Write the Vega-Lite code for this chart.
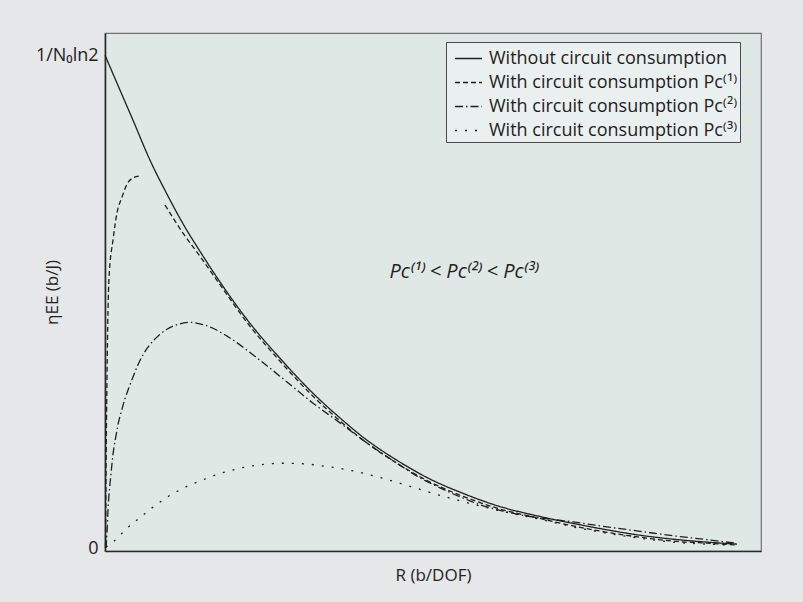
{
  "$schema": "https://vega.github.io/schema/vega-lite/v6.json",
  "width": 656,
  "height": 518,
  "autosize": {"type": "none"},
  "padding": {"left": 105, "top": 33, "right": 42, "bottom": 51},
  "background": "#e6e7e9",
  "config": {
    "view": {"fill": "#dfe8e5", "stroke": "#6f7270", "strokeWidth": 1.2},
    "font": "Open Sans"
  },
  "datasets": {
    "curves": [
      {"s": "none", "R": 0, "eta": 1.0}, {"s": "none", "R": 0.229, "eta": 0.929}, {"s": "none", "R": 0.427, "eta": 0.868}, {"s": "none", "R": 0.686, "eta": 0.787}, {"s": "none", "R": 0.945, "eta": 0.718}, {"s": "none", "R": 1.189, "eta": 0.658}, {"s": "none", "R": 1.448, "eta": 0.602}, {"s": "none", "R": 1.722, "eta": 0.546}, {"s": "none", "R": 2.21, "eta": 0.456}, {"s": "none", "R": 2.668, "eta": 0.385}, {"s": "none", "R": 3.171, "eta": 0.314}, {"s": "none", "R": 3.582, "eta": 0.264}, {"s": "none", "R": 3.933, "eta": 0.225}, {"s": "none", "R": 4.451, "eta": 0.178}, {"s": "none", "R": 4.954, "eta": 0.14}, {"s": "none", "R": 5.457, "eta": 0.111}, {"s": "none", "R": 5.976, "eta": 0.086}, {"s": "none", "R": 6.631, "eta": 0.064}, {"s": "none", "R": 7.134, "eta": 0.05}, {"s": "none", "R": 7.652, "eta": 0.037}, {"s": "none", "R": 8.155, "eta": 0.026}, {"s": "none", "R": 8.659, "eta": 0.018}, {"s": "none", "R": 9.177, "eta": 0.012}, {"s": "none", "R": 9.634, "eta": 0.008},

      {"s": "Pc1", "R": 0.008, "eta": 0}, {"s": "Pc1", "R": 0.015, "eta": 0.138}, {"s": "Pc1", "R": 0.03, "eta": 0.341}, {"s": "Pc1", "R": 0.046, "eta": 0.483}, {"s": "Pc1", "R": 0.061, "eta": 0.548}, {"s": "Pc1", "R": 0.122, "eta": 0.625}, {"s": "Pc1", "R": 0.183, "eta": 0.68}, {"s": "Pc1", "R": 0.259, "eta": 0.712}, {"s": "Pc1", "R": 0.335, "eta": 0.738}, {"s": "Pc1", "R": 0.427, "eta": 0.751}, {"s": "Pc1", "R": 0.534, "eta": 0.755}, {"s": "Pc1", "R": 0.7, "eta": null}, {"s": "Pc1", "R": 0.915, "eta": 0.696}, {"s": "Pc1", "R": 1.189, "eta": 0.639}, {"s": "Pc1", "R": 1.448, "eta": 0.592}, {"s": "Pc1", "R": 1.707, "eta": 0.543}, {"s": "Pc1", "R": 2.21, "eta": 0.45}, {"s": "Pc1", "R": 2.668, "eta": 0.379}, {"s": "Pc1", "R": 3.171, "eta": 0.308}, {"s": "Pc1", "R": 3.582, "eta": 0.258}, {"s": "Pc1", "R": 3.933, "eta": 0.219}, {"s": "Pc1", "R": 4.451, "eta": 0.172}, {"s": "Pc1", "R": 4.954, "eta": 0.134}, {"s": "Pc1", "R": 5.457, "eta": 0.105}, {"s": "Pc1", "R": 5.976, "eta": 0.081}, {"s": "Pc1", "R": 6.631, "eta": 0.06}, {"s": "Pc1", "R": 7.134, "eta": 0.045}, {"s": "Pc1", "R": 7.652, "eta": 0.032}, {"s": "Pc1", "R": 8.155, "eta": 0.022}, {"s": "Pc1", "R": 8.659, "eta": 0.014}, {"s": "Pc1", "R": 9.177, "eta": 0.01}, {"s": "Pc1", "R": 9.634, "eta": 0.006},

      {"s": "Pc2", "R": 0.015, "eta": 0}, {"s": "Pc2", "R": 0.03, "eta": 0.03}, {"s": "Pc2", "R": 0.046, "eta": 0.077}, {"s": "Pc2", "R": 0.091, "eta": 0.15}, {"s": "Pc2", "R": 0.122, "eta": 0.19}, {"s": "Pc2", "R": 0.168, "eta": 0.228}, {"s": "Pc2", "R": 0.198, "eta": 0.25}, {"s": "Pc2", "R": 0.259, "eta": 0.282}, {"s": "Pc2", "R": 0.305, "eta": 0.303}, {"s": "Pc2", "R": 0.366, "eta": 0.326}, {"s": "Pc2", "R": 0.427, "eta": 0.347}, {"s": "Pc2", "R": 0.503, "eta": 0.372}, {"s": "Pc2", "R": 0.579, "eta": 0.392}, {"s": "Pc2", "R": 0.686, "eta": 0.413}, {"s": "Pc2", "R": 0.808, "eta": 0.43}, {"s": "Pc2", "R": 0.945, "eta": 0.444}, {"s": "Pc2", "R": 1.143, "eta": 0.455}, {"s": "Pc2", "R": 1.296, "eta": 0.458}, {"s": "Pc2", "R": 1.448, "eta": 0.455}, {"s": "Pc2", "R": 1.646, "eta": 0.446}, {"s": "Pc2", "R": 1.86, "eta": 0.43}, {"s": "Pc2", "R": 2.363, "eta": 0.381}, {"s": "Pc2", "R": 2.774, "eta": 0.337}, {"s": "Pc2", "R": 3.171, "eta": 0.294}, {"s": "Pc2", "R": 3.582, "eta": 0.254}, {"s": "Pc2", "R": 3.933, "eta": 0.219}, {"s": "Pc2", "R": 4.451, "eta": 0.172}, {"s": "Pc2", "R": 4.756, "eta": 0.146}, {"s": "Pc2", "R": 5.107, "eta": 0.122}, {"s": "Pc2", "R": 5.412, "eta": 0.104}, {"s": "Pc2", "R": 5.716, "eta": 0.088}, {"s": "Pc2", "R": 6.067, "eta": 0.075}, {"s": "Pc2", "R": 6.479, "eta": 0.064}, {"s": "Pc2", "R": 7.134, "eta": 0.053}, {"s": "Pc2", "R": 7.652, "eta": 0.043}, {"s": "Pc2", "R": 8.155, "eta": 0.034}, {"s": "Pc2", "R": 8.659, "eta": 0.025}, {"s": "Pc2", "R": 9.177, "eta": 0.017}, {"s": "Pc2", "R": 9.604, "eta": 0.01},

      {"s": "Pc3", "R": 0.015, "eta": 0.002}, {"s": "Pc3", "R": 0.122, "eta": 0.012}, {"s": "Pc3", "R": 0.229, "eta": 0.026}, {"s": "Pc3", "R": 0.351, "eta": 0.042}, {"s": "Pc3", "R": 0.488, "eta": 0.057}, {"s": "Pc3", "R": 0.61, "eta": 0.07}, {"s": "Pc3", "R": 0.732, "eta": 0.083}, {"s": "Pc3", "R": 0.869, "eta": 0.096}, {"s": "Pc3", "R": 0.991, "eta": 0.107}, {"s": "Pc3", "R": 1.143, "eta": 0.118}, {"s": "Pc3", "R": 1.296, "eta": 0.128}, {"s": "Pc3", "R": 1.448, "eta": 0.136}, {"s": "Pc3", "R": 1.753, "eta": 0.151}, {"s": "Pc3", "R": 2.058, "eta": 0.162}, {"s": "Pc3", "R": 2.363, "eta": 0.169}, {"s": "Pc3", "R": 2.713, "eta": 0.172}, {"s": "Pc3", "R": 3.018, "eta": 0.171}, {"s": "Pc3", "R": 3.354, "eta": 0.166}, {"s": "Pc3", "R": 3.689, "eta": 0.159}, {"s": "Pc3", "R": 3.994, "eta": 0.15}, {"s": "Pc3", "R": 4.299, "eta": 0.139}, {"s": "Pc3", "R": 4.756, "eta": 0.121}, {"s": "Pc3", "R": 5.076, "eta": 0.108}, {"s": "Pc3", "R": 5.381, "eta": 0.097}, {"s": "Pc3", "R": 5.823, "eta": 0.082}, {"s": "Pc3", "R": 6.174, "eta": 0.071}, {"s": "Pc3", "R": 6.677, "eta": 0.057}, {"s": "Pc3", "R": 7.134, "eta": 0.043}, {"s": "Pc3", "R": 7.652, "eta": 0.03}, {"s": "Pc3", "R": 8.155, "eta": 0.02}, {"s": "Pc3", "R": 8.659, "eta": 0.012}, {"s": "Pc3", "R": 9.177, "eta": 0.008}, {"s": "Pc3", "R": 9.558, "eta": 0.006}
    ],
    "note": [
      {"text": "Pc⁽¹⁾ < Pc⁽²⁾ < Pc⁽³⁾", "R": 5.47, "eta": 0.56}
    ]
  },
  "layer": [
    {
      "data": {"name": "curves"},
      "mark": {"type": "line", "color": "#1f1f1f", "strokeWidth": 1.3, "interpolate": "monotone", "invalid": "break-paths-show-domains"},
      "encoding": {
        "x": {
          "field": "R", "type": "quantitative",
          "scale": {"domain": [0, 10], "nice": false, "zero": false},
          "axis": {"labels": false, "ticks": false, "grid": false, "domainColor": "#2a2a2a", "domainWidth": 1.6, "title": "R (b/DOF)", "titleFontSize": 17, "titleFontWeight": "normal", "titleColor": "#222", "titlePadding": 16}
        },
        "y": {
          "field": "eta", "type": "quantitative",
          "scale": {"domain": [-0.006, 1.045], "nice": false, "zero": false},
          "axis": {"values": [0, 1], "labelExpr": "datum.value == 1 ? '1/N₀ln2' : '0'", "labelFlush": false, "ticks": false, "grid": false, "domainColor": "#2a2a2a", "domainWidth": 1.6, "labelFontSize": 18, "labelColor": "#222", "labelPadding": 7, "title": "ηEE (b/J)", "titleFontSize": 17, "titleFontWeight": "normal", "titleColor": "#222", "titleX": -44}
        },
        "strokeDash": {
          "field": "s", "type": "nominal",
          "scale": {"domain": ["none", "Pc1", "Pc2", "Pc3"], "range": [[1, 0], [5, 3], [8, 3, 1.5, 3], [2, 8]]},
          "legend": {
            "title": null, "orient": "none", "legendX": 341, "legendY": 9,
            "fillColor": "#eaf0ef", "strokeColor": "#4a4a4a", "padding": 2,
            "labelFontSize": 18, "labelColor": "#222", "labelLimit": 400, "labelOffset": 6,
            "symbolType": "stroke", "symbolSize": 729, "symbolOffset": 6, "symbolStrokeWidth": 1.3, "symbolStrokeColor": "#1f1f1f",
            "rowPadding": -3,
            "labelExpr": "datum.label == 'none' ? 'Without circuit consumption' : 'With circuit consumption Pc' + (datum.label == 'Pc1' ? '⁽¹⁾' : datum.label == 'Pc2' ? '⁽²⁾' : '⁽³⁾')"
          }
        }
      }
    },
    {
      "data": {"name": "note"},
      "mark": {"type": "text", "fontSize": 20, "fontStyle": "italic", "color": "#222"},
      "encoding": {
        "x": {"field": "R", "type": "quantitative"},
        "y": {"field": "eta", "type": "quantitative"},
        "text": {"field": "text"}
      }
    }
  ]
}
